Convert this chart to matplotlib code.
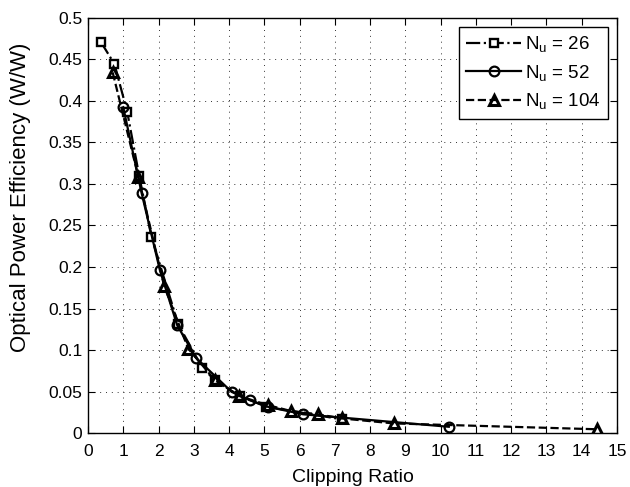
import matplotlib
matplotlib.use("Agg")
import matplotlib.pyplot as plt

plt.rcParams['font.family'] = ['Liberation Sans', 'DejaVu Sans']
plt.rcParams['mathtext.fontset'] = 'custom'
plt.rcParams['mathtext.rm'] = 'Liberation Sans'

x26 = [0.36, 0.75, 1.11, 1.45, 1.80, 2.56, 3.24, 3.60, 4.30, 5.06, 7.19]
y26 = [0.471, 0.444, 0.387, 0.310, 0.236, 0.131, 0.079, 0.064, 0.045, 0.032, 0.017]

x52 = [1.00, 1.52, 2.04, 2.53, 3.06, 4.07, 4.59, 5.10, 6.10, 10.23]
y52 = [0.392, 0.289, 0.196, 0.130, 0.091, 0.050, 0.040, 0.032, 0.023, 0.008]

x104 = [0.70, 1.43, 2.16, 2.84, 3.60, 4.29, 5.10, 5.75, 6.52, 7.20, 8.68, 14.44]
y104 = [0.434, 0.308, 0.177, 0.102, 0.064, 0.045, 0.034, 0.027, 0.023, 0.018, 0.012, 0.005]

labels = [r'$\mathrm{N_u}$ = 26', r'$\mathrm{N_u}$ = 52', r'$\mathrm{N_u}$ = 104']

fig = plt.figure(figsize=(6.3, 4.87), dpi=100)
ax = fig.add_axes([0.1397, 0.110, 0.8397, 0.854])

ax.plot(x26, y26, color='black', linestyle='-.', linewidth=1.6, marker='s',
        markersize=6, markerfacecolor='white', markeredgewidth=1.7, label=labels[0])
ax.plot(x52, y52, color='black', linestyle='-', linewidth=1.6, marker='o',
        markersize=7, markerfacecolor='none', markeredgewidth=1.6, label=labels[1])
ax.plot(x104, y104, color='black', linestyle='--', linewidth=1.6, marker='^',
        markersize=7, markerfacecolor='none', markeredgewidth=2.2, label=labels[2])

ax.set_xlim(0, 15)
ax.set_ylim(0, 0.5)
ax.set_xticks(range(0, 16))
ax.set_yticks([0, 0.05, 0.1, 0.15, 0.2, 0.25, 0.3, 0.35, 0.4, 0.45, 0.5])
ax.set_yticklabels(['0', '0.05', '0.1', '0.15', '0.2', '0.25', '0.3', '0.35', '0.4', '0.45', '0.5'])
ax.tick_params(direction='in', top=True, right=True, labelsize=12.5, length=5, width=0.8)
ax.tick_params(axis='x', pad=7.5)
ax.tick_params(axis='y', pad=4)
ax.grid(True, linestyle=(0, (1, 5)), color='#333333', linewidth=0.7)
for s in ax.spines.values():
    s.set_linewidth(1.0)

ax.set_xlabel('Clipping Ratio', fontsize=14)
ax.xaxis.set_label_coords(0.5, -0.086)
ax.set_ylabel('Optical Power Efficiency (W/W)', fontsize=16)
ax.yaxis.set_label_coords(-0.108, 0.568)

leg = ax.legend(loc='upper right', fontsize=13.5, frameon=True, fancybox=False,
                edgecolor='black', framealpha=1, borderaxespad=0.5,
                handlelength=2.9, handletextpad=0.2, labelspacing=0.45)
leg.get_frame().set_linewidth(1.0)

fig.savefig('out.png', dpi=100)
